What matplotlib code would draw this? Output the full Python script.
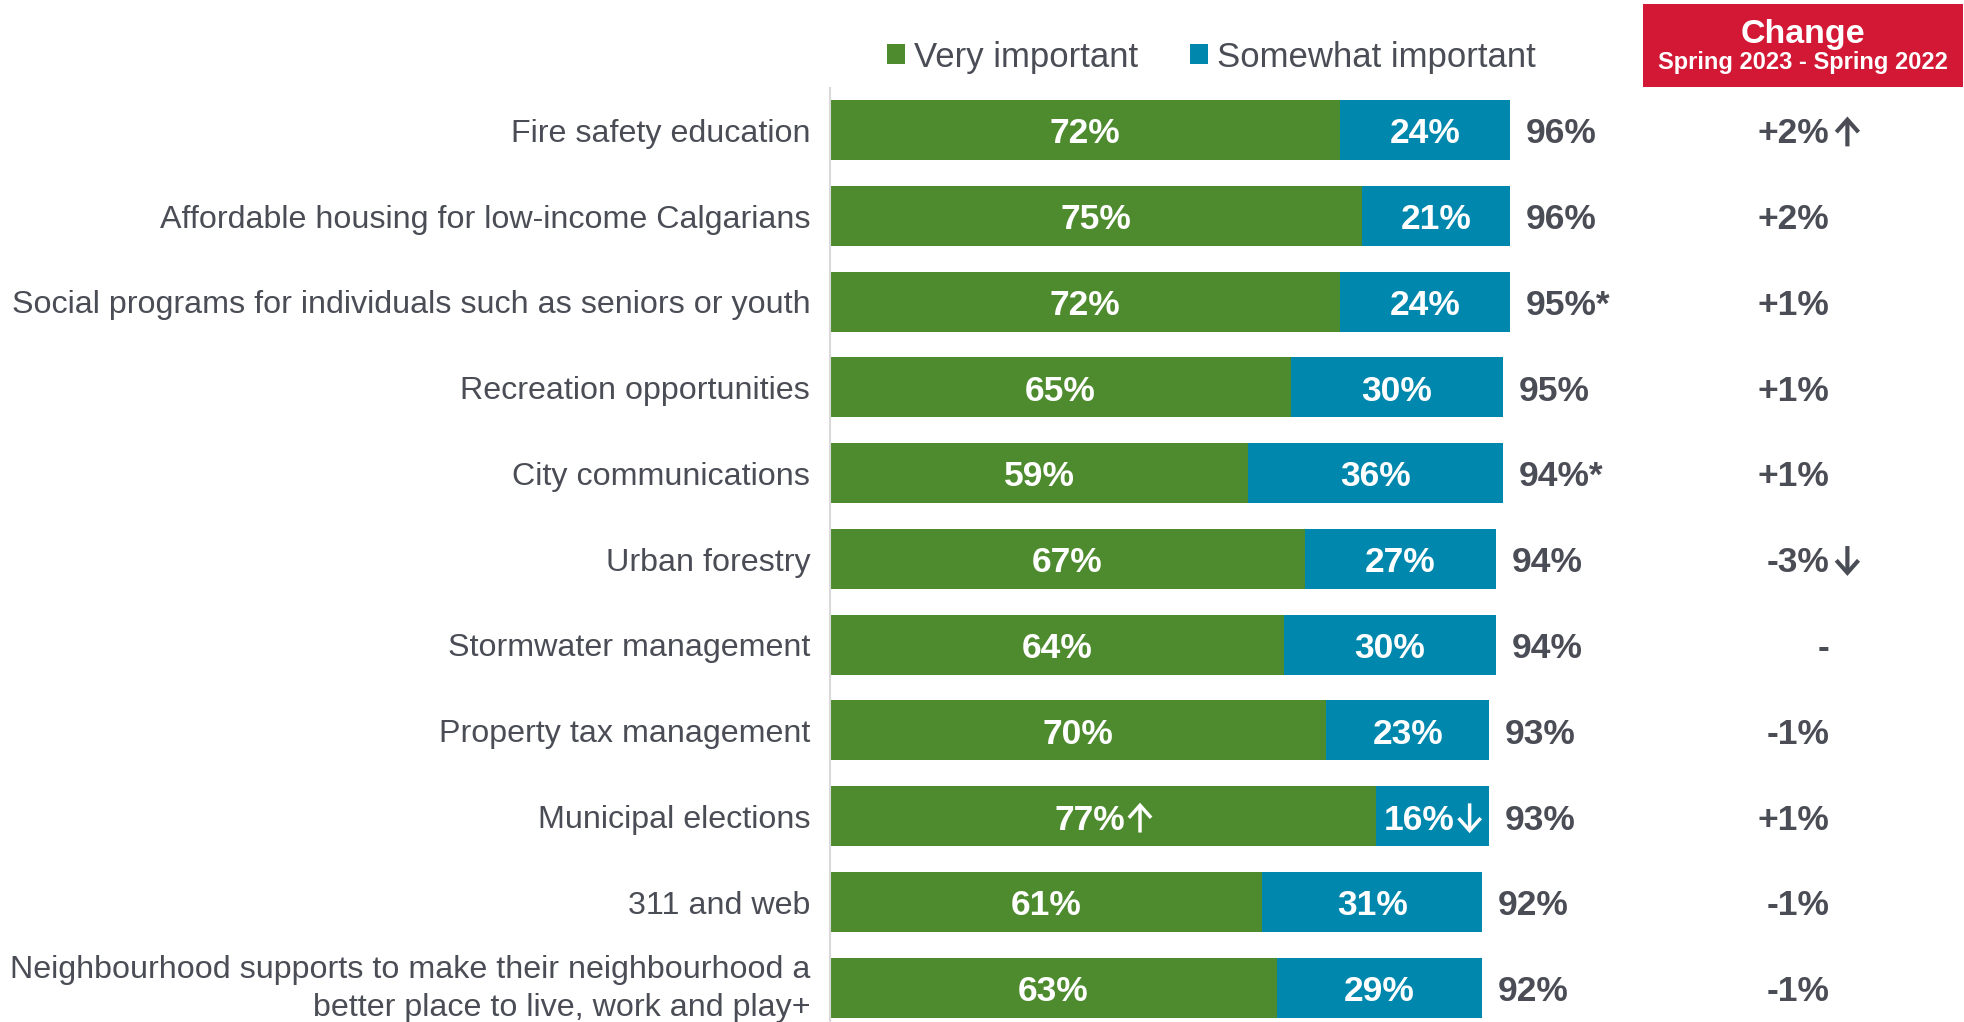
import matplotlib
matplotlib.use('Agg')
import matplotlib.pyplot as plt
from matplotlib.patches import Rectangle
from matplotlib.text import OffsetFrom

# Data
categories = [
    'Fire safety education',
    'Affordable housing for low-income Calgarians',
    'Social programs for individuals such as seniors or youth',
    'Recreation opportunities',
    'City communications',
    'Urban forestry',
    'Stormwater management',
    'Property tax management',
    'Municipal elections',
    '311 and web',
    'Neighbourhood supports to make their neighbourhood a\nbetter place to live, work and play+',
]
very_important = [72, 75, 72, 65, 59, 67, 64, 70, 77, 61, 63]
somewhat_important = [24, 21, 24, 30, 36, 27, 30, 23, 16, 31, 29]
total_labels = ['96%', '96%', '95%*', '95%', '94%*', '94%', '94%', '93%', '93%', '92%', '92%']
change_labels = ['+2%', '+2%', '+1%', '+1%', '+1%', '-3%', '-', '-1%', '+1%', '-1%', '-1%']
change_arrows = ['up', '', '', '', '', 'down', '', '', '', '', '']
very_arrows = ['', '', '', '', '', '', '', '', 'up', '', '']
somewhat_arrows = ['', '', '', '', '', '', '', '', 'down', '', '']

GREEN = '#4E8B2E'
BLUE = '#0087AD'
GREY = '#4A4D55'
RED = '#D31836'
NUM_SIZE = 25.5
DY = 0.045  # nudge text down a touch so it sits like the original

plt.rcParams['font.family'] = ['Liberation Sans', 'DejaVu Sans']

fig = plt.figure(figsize=(19.65, 10.22), dpi=100)
ax = fig.add_axes([830 / 1965, 0, 1134 / 1965, 1 - 88 / 1022])

y = list(range(len(categories)))
b1 = ax.barh(y, very_important, height=0.70, color=GREEN, label='Very important')
b2 = ax.barh(y, somewhat_important, left=very_important, height=0.70, color=BLUE,
             label='Somewhat important')

ax.set_xlim(0, 160)
ax.set_ylim(10.40, -0.49)

for s in ['top', 'right', 'bottom']:
    ax.spines[s].set_visible(False)
ax.spines['left'].set_color('#D9D9D9')
ax.spines['left'].set_linewidth(1.5)
ax.set_xticks([])
ax.set_yticks([])


def label_with_arrow(x, yy, txt, arrow, color, ha='center', lw=3, gap=11):
    # number text, optionally followed by an open up/down arrow
    shift = 1.9 if (arrow and ha == 'center') else 0
    t = ax.text(x - shift, yy + DY, txt, ha=ha, va='center', fontsize=NUM_SIZE,
                fontweight='bold', color=color, clip_on=False)
    if arrow:
        ref = OffsetFrom(t, (1, 0.5), unit='points')
        top, bot = (12.5, -9) if arrow == 'up' else (-9.5, 12)
        ax.annotate('', xy=(gap, top), xycoords=ref, xytext=(gap, bot), textcoords=ref,
                    arrowprops=dict(arrowstyle='->,head_length=0.45,head_width=0.4',
                                    lw=lw, color=color, shrinkA=0, shrinkB=0,
                                    mutation_scale=20, joinstyle='miter',
                                    capstyle='butt'))
    return t


for i, cat in enumerate(categories):
    v = very_important[i]
    s = somewhat_important[i]
    two_lines = '\n' in cat
    ax.text(-2.8, i + (0.015 if two_lines else DY), cat, ha='right', va='center',
            fontsize=23.2, color=GREY, linespacing=1.32, clip_on=False)
    label_with_arrow(v / 2, i, f'{v}%', very_arrows[i], 'white', lw=2.5)
    label_with_arrow(v + s / 2, i, f'{s}%', somewhat_arrows[i], 'white', lw=2.5)
    ax.text(v + s + 2.2, i + DY, total_labels[i], ha='left', va='center',
            fontsize=NUM_SIZE, fontweight='bold', color=GREY)
    label_with_arrow(141.0, i, change_labels[i], change_arrows[i], GREY, ha='right', gap=13)

# Legend
fig.legend(handles=[b1, b2], loc='center', bbox_to_anchor=(1211.5 / 1965, 1 - 57 / 1022),
           ncol=2, frameon=False, fontsize=25, handlelength=0.52, handleheight=0.52,
           handletextpad=0.26, columnspacing=1.5, labelcolor=GREY, borderpad=0)

# Change header box
fig.patches.append(Rectangle((1643 / 1965, 1 - 87 / 1022), 320 / 1965, 83 / 1022,
                             transform=fig.transFigure, facecolor=RED, edgecolor='none'))
fig.text(1803 / 1965, 1 - 35 / 1022, 'Change', ha='center', va='center',
         fontsize=24.5, fontweight='bold', color='white')
fig.text(1803 / 1965, 1 - 63 / 1022, 'Spring 2023 - Spring 2022', ha='center', va='center',
         fontsize=17, fontweight='bold', color='white')

fig.savefig('out.png', dpi=100)
